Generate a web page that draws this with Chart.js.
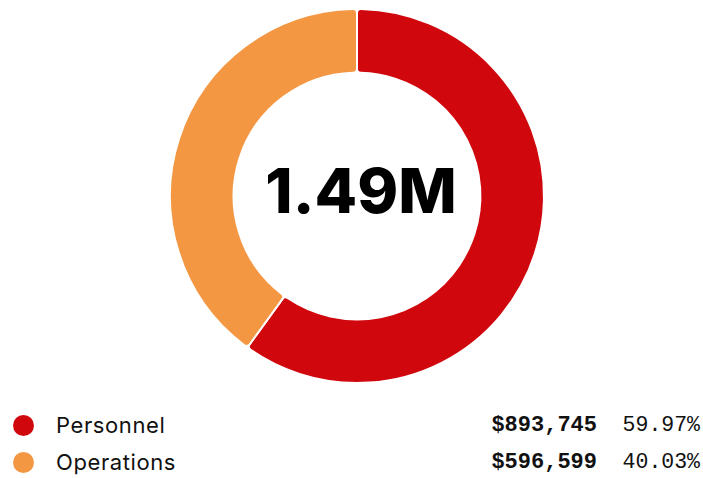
<!DOCTYPE html>
<html>
<head>
<meta charset="utf-8">
<script src="https://cdn.jsdelivr.net/npm/chart.js@4"></script>
<style>
  html, body { margin: 0; padding: 0; background: #fff; }
  body { width: 703px; height: 478px; overflow: hidden; font-family: "Inter", "Noto Sans", sans-serif; }
  #chart-wrap { position: relative; width: 703px; height: 392px; }
  #legend { position: absolute; left: 0; top: 407px; width: 703px; }
  .row { position: relative; height: 37px; line-height: 37px; }
  .dot { position: absolute; left: 13px; top: 8px; width: 21px; height: 21px; border-radius: 50%; }
  .name { position: absolute; left: 56px; font-size: 22px; letter-spacing: 0.6px; color: #111; }
  .amount { position: absolute; right: 106px; font-family: "Liberation Mono", monospace; font-weight: bold; font-size: 22px; color: #111; }
  .pct { position: absolute; right: 3px; font-family: "Liberation Mono", monospace; font-size: 21.5px; color: #111; }
</style>
</head>
<body>
<div id="chart-wrap"><canvas id="budget-chart"></canvas></div>
<div id="legend"></div>
<script>
const categories = ["Personnel", "Operations"];
const amounts = [893745, 596599];
const colors = ["#D0070D", "#F39742"];
const centerLabel = "1.49M";

const total = amounts.reduce((a, b) => a + b, 0);

// legend rows under the donut
const legend = document.getElementById("legend");
legend.innerHTML = categories.map((name, i) => `
    <div class="row">
        <span class="dot" style="background:${colors[i]}"></span>
        <span class="name">${name}</span>
        <span class="amount">$${amounts[i].toLocaleString("en-US")}</span>
        <span class="pct">${(amounts[i] / total * 100).toFixed(2)}%</span>
    </div>
`).join("");

// total written in the hole of the donut
const centerText = {
    id: "centerText",
    afterDraw(chart) {
        const meta = chart.getDatasetMeta(0);
        if (!meta.data.length) return;
        const { x, y } = meta.data[0];
        const ctx = chart.ctx;
        ctx.save();
        ctx.font = "800 62px Inter, sans-serif";
        ctx.fillStyle = "#000";
        ctx.textAlign = "center";
        ctx.textBaseline = "middle";
        ctx.fillText(centerLabel, x + 4, y - 2);
        ctx.restore();
    }
};

const ctx = document.getElementById("budget-chart").getContext("2d");
new Chart(ctx, {
    type: "doughnut",
    data: {
        labels: categories,
        datasets: [{
            data: amounts,
            backgroundColor: colors,
            borderColor: "#fff",
            borderWidth: 2,
            borderRadius: 4,
            hoverOffset: 0
        }]
    },
    options: {
        responsive: true,
        maintainAspectRatio: false,
        animation: false,
        cutout: "66%",
        layout: { padding: { top: 8, bottom: 8, left: 11 } },
        plugins: {
            legend: { display: false },
            tooltip: { enabled: false }
        }
    },
    plugins: [centerText]
});
</script>
</body>
</html>
